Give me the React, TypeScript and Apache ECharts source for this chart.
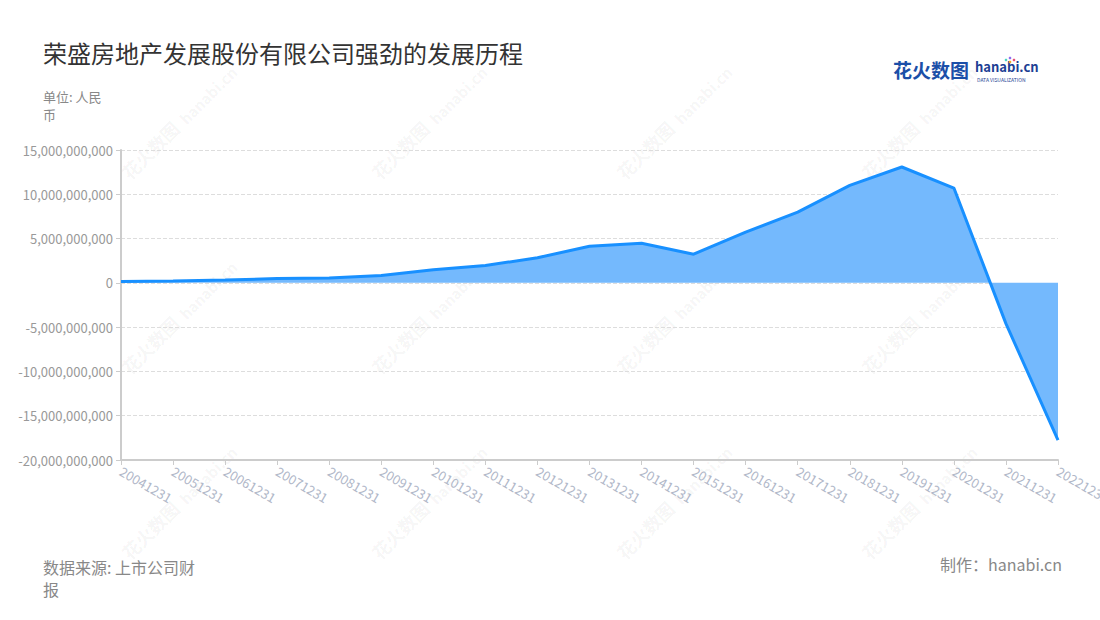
import React, { useEffect, useRef } from "react";
import * as echarts from "echarts";

const categories = [
  "20041231", "20051231", "20061231", "20071231", "20081231", "20091231",
  "20101231", "20111231", "20121231", "20131231", "20141231", "20151231",
  "20161231", "20171231", "20181231", "20191231", "20201231", "20211231",
  "20221231",
];

const values = [
  150000000, 220000000, 330000000, 480000000, 560000000, 820000000,
  1470000000, 1960000000, 2830000000, 4140000000, 4480000000, 3240000000,
  5730000000, 7990000000, 11000000000, 13080000000, 10700000000, -4600000000,
  -17760000000,
];

const titleText = "荣盛房地产发展股份有限公司强劲的发展历程";
const unitText = "单位: 人民\n币";
const sourceText = "数据来源: 上市公司财\n报";
const makerText = "制作：hanabi.cn";

const FONT = "'Noto Sans CJK SC', 'Noto Sans', sans-serif";

function fmt(v: number) {
  return v.toString().replace(/\B(?=(\d{3})+(?!\d))/g, ",");
}

export default function App() {
  const ref = useRef<HTMLDivElement>(null);
  useEffect(() => {
    if (!ref.current) return;
    const chart = echarts.init(ref.current, null, { renderer: "svg" });
    const wmPositions = [
      [150, 150], [400, 150], [645, 150], [890, 150],
      [150, 345], [400, 345], [645, 345], [890, 345],
      [150, 530], [400, 530], [645, 530], [890, 530],
    ];
    const watermarks: any[] = [];
    wmPositions.forEach(([x, y]) => {
      watermarks.push({
        type: "text",
        x,
        y,
        rotation: Math.PI / 4,
        silent: true,
        z: 0,
        style: {
          text: "花火数图",
          fill: "rgba(0,0,0,0.05)",
          font: `bold 18px ${FONT}`,
          align: "center",
          verticalAlign: "middle",
        },
      });
      watermarks.push({
        type: "text",
        x: x + 58,
        y: y - 55,
        rotation: Math.PI / 4,
        silent: true,
        z: 0,
        style: {
          text: "hanabi.cn",
          fill: "rgba(0,0,0,0.05)",
          font: `bold 15px ${FONT}`,
          align: "center",
          verticalAlign: "middle",
        },
      });
    });
    chart.setOption({
      animation: false,
      backgroundColor: "#fff",
      textStyle: { fontFamily: FONT },
      title: [
        {
          text: titleText,
          left: 38,
          top: 35,
          textStyle: { fontSize: 24, color: "#333", fontWeight: "normal", fontFamily: FONT },
        },
        {
          text: unitText,
          left: 38,
          top: 82,
          textStyle: { fontSize: 13, color: "#888", fontWeight: "normal", lineHeight: 18, fontFamily: FONT },
        },
      ],
      graphic: [
        ...watermarks,
        {
          type: "text",
          left: 43,
          top: 556,
          style: {
            text: sourceText,
            fill: "#888",
            font: `16px ${FONT}`,
            lineHeight: 22,
          },
        },
        {
          type: "text",
          right: 38,
          top: 556,
          style: {
            text: makerText,
            fill: "#888",
            font: `16px ${FONT}`,
          },
        },
        {
          type: "text",
          left: 893,
          top: 60,
          style: {
            text: "花火数图",
            fill: "#1b4fa8",
            font: `bold 19px ${FONT}`,
          },
        },
        {
          type: "text",
          left: 975,
          top: 60,
          style: {
            text: "hanabi.cn",
            fill: "#1d3f94",
            font: `bold 13px ${FONT}`,
          },
        },
        {
          type: "text",
          left: 977,
          top: 77,
          style: {
            text: "DATA VISUALIZATION",
            fill: "#1d3f94",
            font: `5px ${FONT}`,
          },
        },
        { type: "circle", shape: { cx: 1010, cy: 62, r: 1.3 }, style: { fill: "#f5a623" } },
        { type: "circle", shape: { cx: 1014, cy: 60, r: 1.3 }, style: { fill: "#e94e77" } },
        { type: "circle", shape: { cx: 1006, cy: 60, r: 1.3 }, style: { fill: "#4cd3c2" } },
        { type: "circle", shape: { cx: 1010, cy: 58, r: 1.3 }, style: { fill: "#8e6cf0" } },
      ],
      grid: {
        left: 121,
        right: 42,
        top: 150,
        bottom: 160,
        containLabel: false,
        outerBoundsMode: "none",
      },
      xAxis: {
        type: "category",
        data: categories,
        boundaryGap: false,
        axisLine: { show: true, onZero: false, lineStyle: { color: "#ccc", width: 2 } },
        axisTick: { show: true, alignWithLabel: true, lineStyle: { color: "#ccc" } },
        axisLabel: {
          rotate: -30,
          color: "#b0b7c8",
          fontSize: 13,
          interval: 0,
          margin: 10,
          fontFamily: FONT,
        },
        splitLine: { show: false },
      },
      yAxis: {
        type: "value",
        min: -20000000000,
        max: 15000000000,
        interval: 5000000000,
        axisLine: { show: true, lineStyle: { color: "#ccc", width: 2 } },
        axisTick: { show: true, lineStyle: { color: "#ccc" } },
        axisLabel: {
          color: "#999",
          fontSize: 13,
          formatter: (v: number) => fmt(v),
          fontFamily: FONT,
        },
        splitLine: { show: true, lineStyle: { color: "#ddd", type: "dashed" } },
      },
      series: [
        {
          type: "line",
          data: values,
          symbol: "none",
          lineStyle: { color: "#1890ff", width: 3 },
          itemStyle: { color: "#1890ff" },
          areaStyle: { color: "#74b9fd", opacity: 1 },
          z: 3,
        },
      ],
    });
    return () => chart.dispose();
  }, []);
  return (
    <div
      ref={ref}
      style={{ position: "fixed", left: 0, top: 0, width: 1100, height: 620 }}
    />
  );
}
